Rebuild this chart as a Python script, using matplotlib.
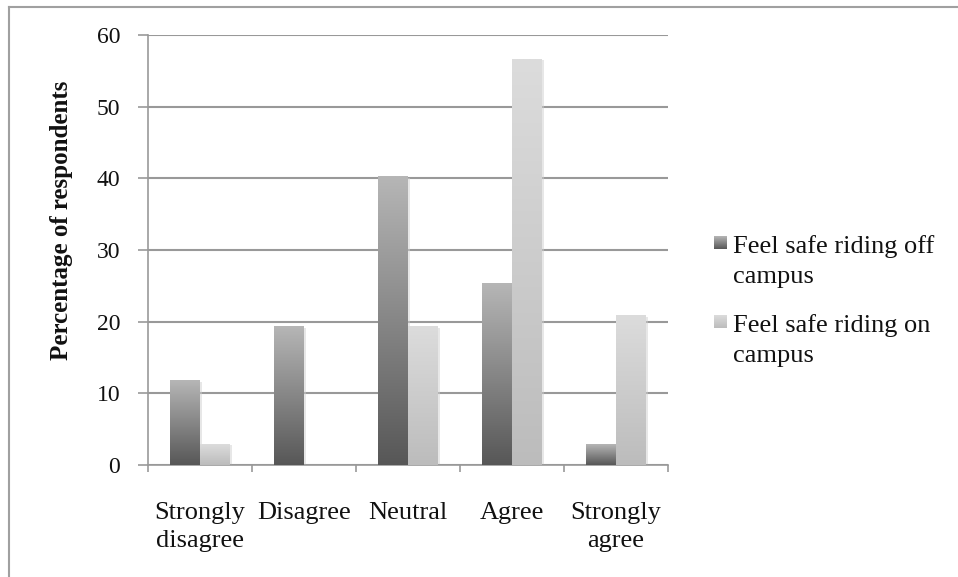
import matplotlib
matplotlib.use("Agg")
import matplotlib.pyplot as plt
import numpy as np
from matplotlib.colors import LinearSegmentedColormap
from matplotlib.patches import Rectangle
from matplotlib.lines import Line2D
from matplotlib.transforms import ScaledTranslation

categories = ["Strongly\ndisagree", "Disagree", "Neutral", "Agree", "Strongly\nagree"]
off_campus = [11.8, 19.3, 40.2, 25.3, 2.9]
on_campus = [2.9, 0.0, 19.3, 56.6, 20.8]
series_names = ["Feel safe riding off\ncampus", "Feel safe riding on\ncampus"]

plt.rcParams["font.family"] = ["Liberation Serif", "DejaVu Serif"]

W, H = 958, 577
fig = plt.figure(figsize=(W / 100, H / 100), dpi=100)
ax = fig.add_axes([148 / W, 112 / H, 520 / W, 430 / H])


def fx(px):
    return px / W


def fy(py):
    return 1 - py / H


# outer frame lines (left and top)
fig.add_artist(Line2D([fx(9), fx(9)], [0, fy(7)], transform=fig.transFigure,
                      color="#a0a0a0", lw=1.5))
fig.add_artist(Line2D([fx(9), 1], [fy(7), fy(7)], transform=fig.transFigure,
                      color="#a0a0a0", lw=1.5))

dark_cmap = LinearSegmentedColormap.from_list("dark", ["#575757", "#b6b6b6"])
light_cmap = LinearSegmentedColormap.from_list("light", ["#bcbcbc", "#dcdcdc"])
grad = np.linspace(0, 1, 256).reshape(-1, 1)

x = np.arange(len(categories))
width = 0.288


def gradient_bars(xs, heights, cmap):
    for xi, h in zip(xs, heights):
        if h <= 0:
            continue
        # soft shadow on the right side
        ax.add_patch(Rectangle((xi + 0.015, 0), width, h - 0.15, color="#d0d0d0",
                               alpha=0.5, lw=0, zorder=2.5))
        ax.imshow(grad, extent=[xi, xi + width, 0, h], origin="lower", cmap=cmap,
                  aspect="auto", zorder=3, interpolation="bilinear")


gradient_bars(x - width, off_campus, dark_cmap)
gradient_bars(x, on_campus, light_cmap)

ax.set_xlim(-0.5, len(categories) - 0.5)
ax.set_ylim(0, 60)
ax.set_yticks(range(0, 61, 10))
ax.yaxis.grid(True, color="#999999", lw=1.5, zorder=1)
ax.set_axisbelow(True)

for side in ["top", "right"]:
    ax.spines[side].set_visible(False)
for side in ["left", "bottom"]:
    ax.spines[side].set_color("#999999")
    ax.spines[side].set_linewidth(1.2)

ax.set_xticks(np.arange(-0.5, len(categories)))
ax.set_xticklabels([])
ax.tick_params(axis="x", length=5, color="#999999", width=1.2, direction="out")
ax.tick_params(axis="y", length=7, color="#999999", width=1.2, labelsize=17,
               pad=13, labelcolor="#111111")

# category labels, one line at a time below the axis
for xi, label in zip(x, categories):
    for i, line in enumerate(label.split("\n")):
        off = ScaledTranslation(0, -(54 + 28 * i) / 100, fig.dpi_scale_trans)
        ax.text(xi, 0, line, transform=ax.get_xaxis_transform() + off,
                ha="center", va="baseline", fontsize=19, color="#111111")

fig.text(fx(62), fy(220), "Percentage of respondents", rotation=90, ha="center",
         va="center", fontsize=18, fontweight="bold", color="#111111")

# legend drawn by hand: gradient square beside the first line of each entry
legend_cmaps = [dark_cmap, light_cmap]
for k, (name, cmap) in enumerate(zip(series_names, legend_cmaps)):
    top = 236 + 79 * k
    key = fig.add_axes([fx(714), fy(top + 13), fx(13), 13 / H])
    key.imshow(grad, origin="lower", cmap=cmap, aspect="auto")
    key.axis("off")
    for i, line in enumerate(name.split("\n")):
        fig.text(fx(733), fy(253 + 79 * k + 30 * i), line, ha="left", va="baseline",
                 fontsize=19, color="#111111")

fig.savefig("out.png", dpi=100)
